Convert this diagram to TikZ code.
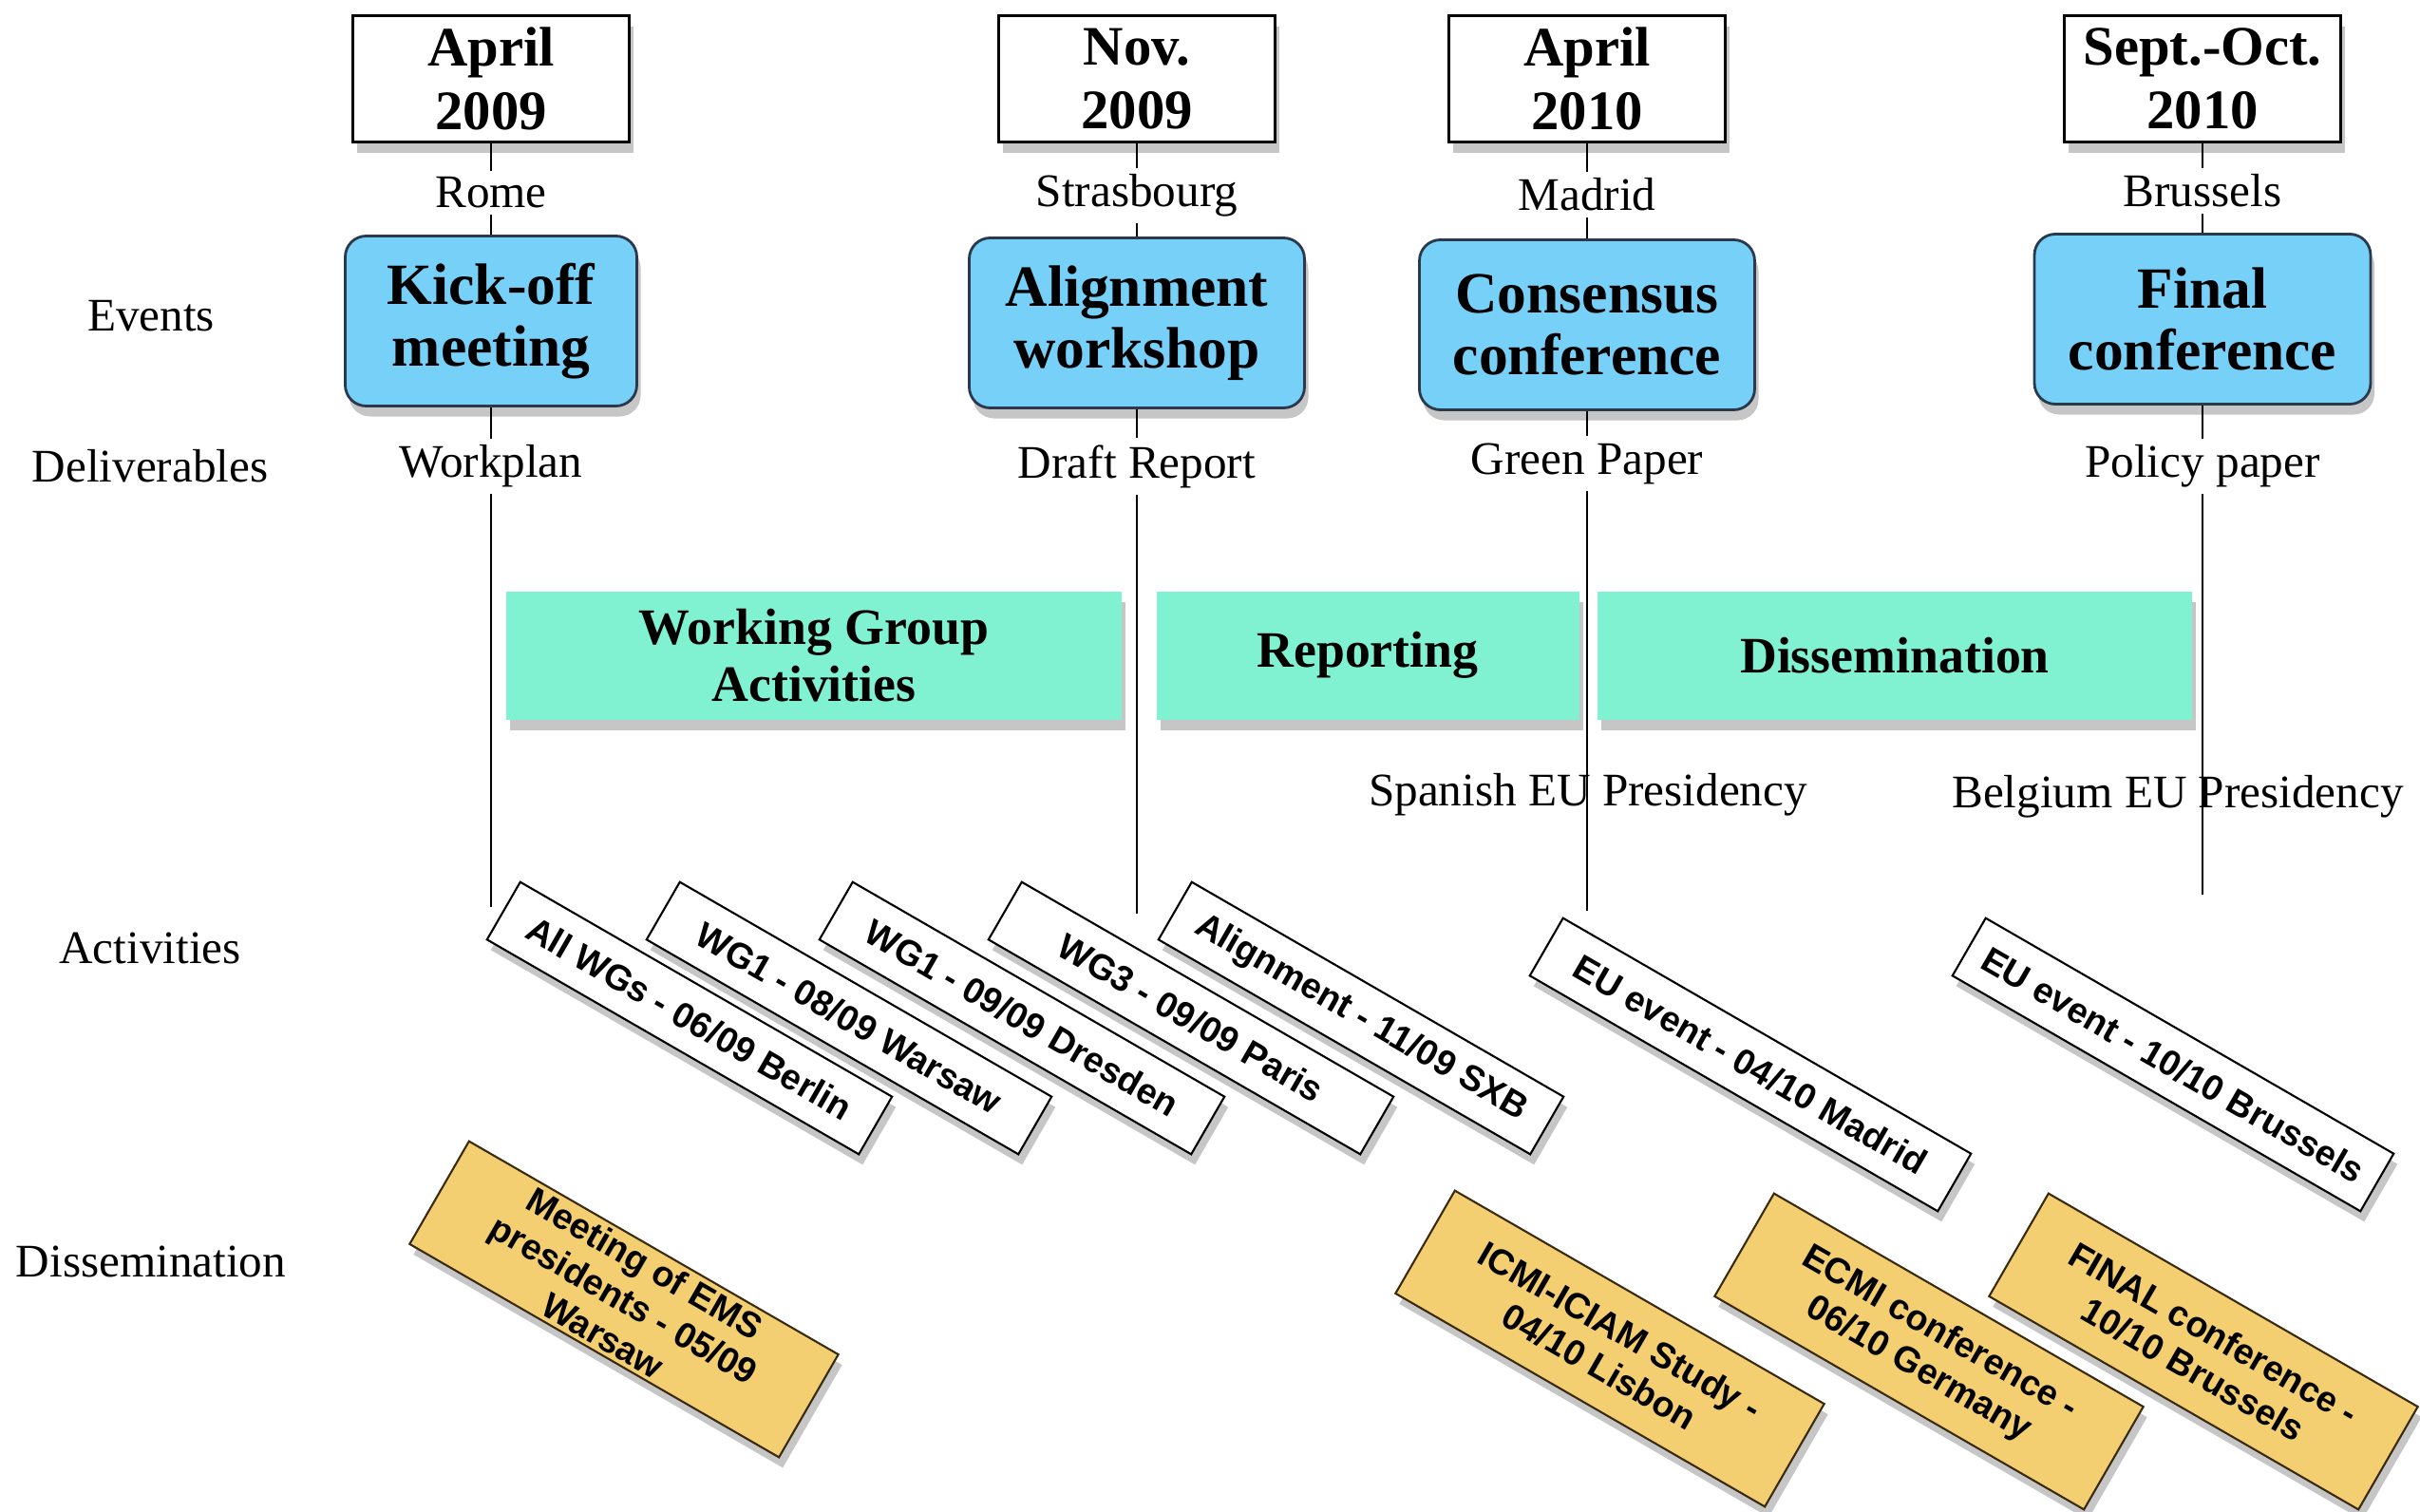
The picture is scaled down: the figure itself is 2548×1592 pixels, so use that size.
\documentclass[tikz,border=0pt]{standalone}
\usepackage{fontspec}
\setmainfont{Liberation Serif}
\newfontfamily\sansf{Liberation Sans}
\usetikzlibrary{shadows}
\definecolor{evblue}{HTML}{77D0F8}
\definecolor{evborder}{HTML}{2A3A4C}
\definecolor{barcol}{HTML}{80F2D2}
\definecolor{dissy}{HTML}{F3CF72}
\definecolor{dissborder}{HTML}{3A2A10}
\begin{document}
\begin{tikzpicture}[x=0.1mm,y=-0.1mm,
  shad/.style={drop shadow={shadow xshift=0.4mm, shadow yshift=-1.1mm, opacity=0.45}},
  datebox/.style={draw=black, line width=0.9pt, fill=white, minimum width=29.1mm, minimum height=13.3mm,
    align=center, inner sep=0pt, font=\fontsize{16.7}{19}\selectfont\bfseries, shad},
  event/.style={draw=evborder, line width=0.8pt, fill=evblue, rounded corners=2.2mm, minimum height=17.9mm,
    align=center, inner sep=0pt, font=\fontsize{17.5}{18.5}\selectfont\bfseries, shad},
  place/.style={fill=white, inner sep=0.7mm, font=\fontsize{14}{16}\selectfont},
  rowlab/.style={font=\fontsize{14}{16}\selectfont},
  bar/.style={fill=barcol, minimum height=13.5mm, align=center, inner sep=0pt,
    font=\fontsize{15.3}{17}\selectfont\bfseries, shad},
  vline/.style={line width=0.75pt, black},
  act/.style={draw=black, line width=0.6pt, fill=white, rotate=-30, minimum width=45.2mm, minimum height=7mm,
    inner sep=0pt, font=\sansf\bfseries\fontsize{10.7}{13}\selectfont, shad},
  diss/.style={draw=dissborder, line width=0.6pt, fill=dissy, rotate=-30, minimum width=44.9mm, minimum height=12.5mm,
    align=center, inner sep=0pt, font=\sansf\bfseries\fontsize{10.7}{12.5}\selectfont, shad}
]
\useasboundingbox (0,0) rectangle (2548,1592);

% row labels
\node[rowlab] (lev) at (159,333) {Events};
\node[rowlab] (ldel) at (158,491) {Deliverables};
\node[rowlab] (lact) at (158,998) {Activities};
\node[rowlab] (ldis) at (159,1328) {Dissemination};

% date boxes
\node[datebox] (d1) at (517,83) {April\\2009};
\node[datebox] (d2) at (1197,83) {Nov.\\2009};
\node[datebox] (d3) at (1671,83) {April\\2010};
\node[datebox] (d4) at (2319,83) {Sept.-Oct.\\2010};

% event boxes
\node[event, minimum width=30.7mm] (e1) at (517,338) {Kick-off\\meeting};
\node[event, minimum width=35.3mm] (e2) at (1197,340) {Alignment\\workshop};
\node[event, minimum width=35.3mm] (e3) at (1671,342) {Consensus\\conference};
\node[event, minimum width=35.4mm] (e4) at (2319,336) {Final\\conference};

% phase bars
\node[bar, minimum width=64.8mm] (g1) at (857,690) {Working Group\\Activities};
\node[bar, minimum width=44.5mm] (g2) at (1440,690) {Reporting};
\node[bar, minimum width=62.6mm] (g3) at (1995,690) {Dissemination};

% line ends
\coordinate (c1) at (517,955);
\coordinate (c2) at (1197,962);
\coordinate (c3) at (1671,959);
\coordinate (c4) at (2319,942);

% vertical lines
\draw[vline] (d1) -- (e1);
\draw[vline] (d2) -- (e2);
\draw[vline] (d3) -- (e3);
\draw[vline] (d4) -- (e4);
\draw[vline] (e1) -- (c1);
\draw[vline] (e2) -- (c2);
\draw[vline] (e3) -- (c3);
\draw[vline] (e4) -- (c4);

% places
\node[place] (p1) at (517,203) {Rome};
\node[place] (p2) at (1197,206) {Strasbourg};
\node[place] (p3) at (1671,205) {Madrid};
\node[place] (p4) at (2319,201) {Brussels};

% deliverables
\node[place] (v1) at (517,491) {Workplan};
\node[place] (v2) at (1197,491) {Draft Report};
\node[place] (v3) at (1671,488) {Green Paper};
\node[place] (v4) at (2319,491) {Policy paper};

% presidencies
\node[rowlab] (sp) at (1672,837) {Spanish EU Presidency};
\node[rowlab] (be) at (2293,839) {Belgium EU Presidency};

% activities
\node[act] (a1) at (726,1072) {All WGs - 06/09 Berlin};
\node[act] (a2) at (894,1072) {WG1 - 08/09 Warsaw};
\node[act] (a3) at (1076,1072) {WG1 - 09/09 Dresden};
\node[act] (a4) at (1254,1072) {WG3 - 09/09 Paris};
\node[act] (a5) at (1433,1072) {Alignment - 11/09 SXB};
\node[act, minimum width=49.6mm] (a6) at (1843,1121) {EU event - 04/10 Madrid};
\node[act, minimum width=49.6mm] (a7) at (2288,1121) {EU event - 10/10 Brussels};

% dissemination
\node[diss] (s1) at (657,1368) {Meeting of EMS\\presidents - 05/09\\Warsaw};
\node[diss] (s2) at (1695,1420) {ICMI-ICIAM Study -\\04/10 Lisbon};
\node[diss] (s3) at (2031,1423) {ECMI conference -\\06/10 Germany};
\node[diss] (s4) at (2320,1423) {FINAL conference -\\10/10 Brussels};
\end{tikzpicture}
\end{document}
